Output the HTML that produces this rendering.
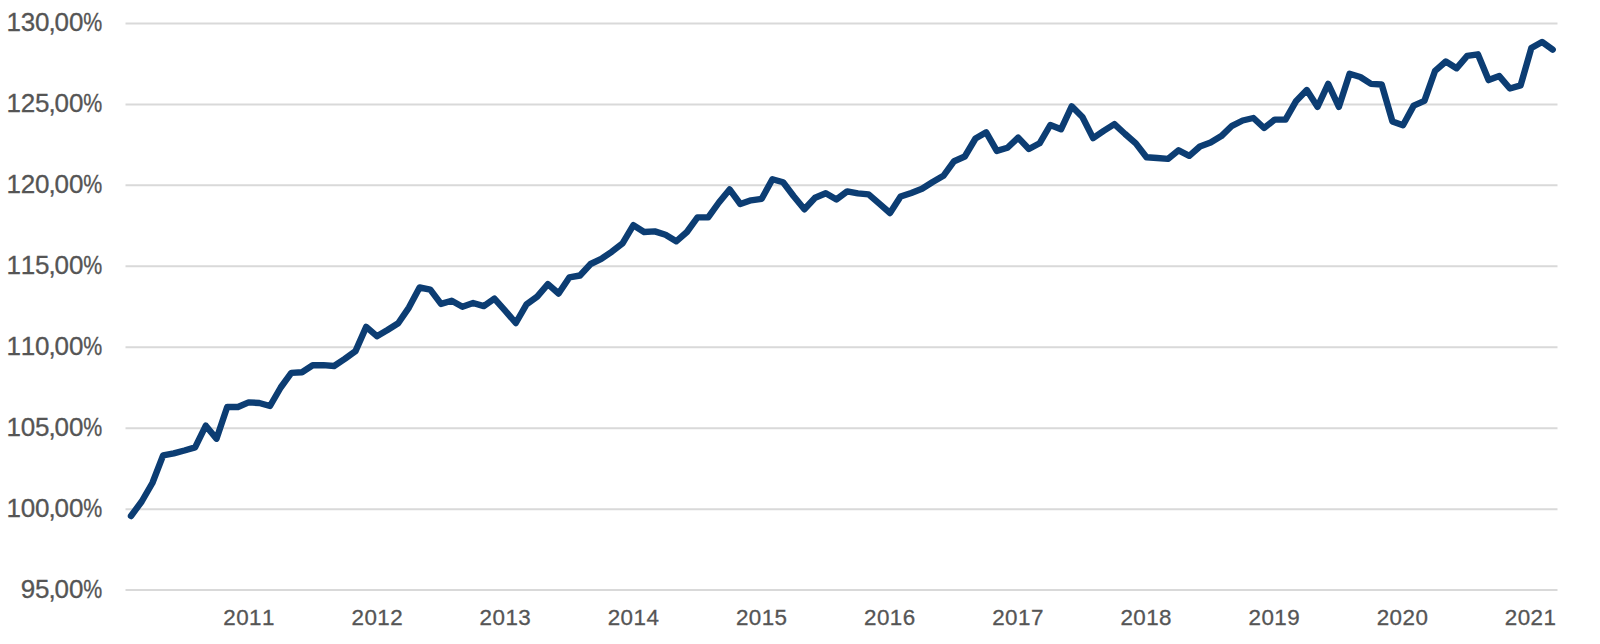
<!DOCTYPE html>
<html><head><meta charset="utf-8"><title>Chart</title>
<style>
html,body{margin:0;padding:0;background:#fff;}
body{width:1600px;height:644px;overflow:hidden;}
svg{display:block;}
text{font-family:"Liberation Sans",sans-serif;fill:#555555;}
</style></head><body>
<svg width="1600" height="644" viewBox="0 0 1600 644">
<rect width="1600" height="644" fill="#ffffff"/>
<g stroke="#d9d9d9" stroke-width="2">
<line x1="125.5" y1="23.4" x2="1557.5" y2="23.4"/>
<line x1="125.5" y1="104.4" x2="1557.5" y2="104.4"/>
<line x1="125.5" y1="185.3" x2="1557.5" y2="185.3"/>
<line x1="125.5" y1="266.3" x2="1557.5" y2="266.3"/>
<line x1="125.5" y1="347.2" x2="1557.5" y2="347.2"/>
<line x1="125.5" y1="428.2" x2="1557.5" y2="428.2"/>
<line x1="125.5" y1="509.2" x2="1557.5" y2="509.2"/>
<line x1="125.5" y1="590.1" x2="1557.5" y2="590.1"/>
</g>
<g font-size="26" text-anchor="start" stroke="#555555" stroke-width="0.3">
<text x="6.6 20.7 35.0 48.6 54.4 69.0" y="31.0">130,00<tspan x="83.3" textLength="19.0" lengthAdjust="spacingAndGlyphs">%</tspan></text>
<text x="6.6 20.7 35.0 48.6 54.4 69.0" y="112.0">125,00<tspan x="83.3" textLength="19.0" lengthAdjust="spacingAndGlyphs">%</tspan></text>
<text x="6.6 20.7 35.0 48.6 54.4 69.0" y="192.9">120,00<tspan x="83.3" textLength="19.0" lengthAdjust="spacingAndGlyphs">%</tspan></text>
<text x="6.6 20.7 35.0 48.6 54.4 69.0" y="273.9">115,00<tspan x="83.3" textLength="19.0" lengthAdjust="spacingAndGlyphs">%</tspan></text>
<text x="6.6 20.7 35.0 48.6 54.4 69.0" y="354.8">110,00<tspan x="83.3" textLength="19.0" lengthAdjust="spacingAndGlyphs">%</tspan></text>
<text x="6.6 20.7 35.0 48.6 54.4 69.0" y="435.8">105,00<tspan x="83.3" textLength="19.0" lengthAdjust="spacingAndGlyphs">%</tspan></text>
<text x="6.6 20.7 35.0 48.6 54.4 69.0" y="516.8">100,00<tspan x="83.3" textLength="19.0" lengthAdjust="spacingAndGlyphs">%</tspan></text>
<text x="20.7 35.0 48.6 54.4 69.0" y="597.7">95,00<tspan x="83.3" textLength="19.0" lengthAdjust="spacingAndGlyphs">%</tspan></text>
</g>
<g font-size="22.4" text-anchor="start" stroke="#555555" stroke-width="0.3">
<text x="223.3 236.2 249.1 262.0" y="625.4">2011</text>
<text x="351.5 364.4 377.3 390.2" y="625.4">2012</text>
<text x="479.6 492.5 505.4 518.3" y="625.4">2013</text>
<text x="607.8 620.6 633.5 646.5" y="625.4">2014</text>
<text x="735.9 748.8 761.7 774.6" y="625.4">2015</text>
<text x="864.0 876.9 889.8 902.8" y="625.4">2016</text>
<text x="992.2 1005.1 1018.0 1030.9" y="625.4">2017</text>
<text x="1120.4 1133.3 1146.2 1159.1" y="625.4">2018</text>
<text x="1248.5 1261.4 1274.3 1287.2" y="625.4">2019</text>
<text x="1376.7 1389.6 1402.5 1415.4" y="625.4">2020</text>
<text x="1504.8 1517.7 1530.6 1543.5" y="625.4">2021</text>
</g>
<polyline fill="none" stroke="#0c3d73" stroke-width="6.4" stroke-linecap="round" stroke-linejoin="round" points="131.0,516.0 141.7,501.5 152.4,483.0 163.1,455.3 173.8,453.3 184.4,450.5 195.1,447.4 205.8,425.7 216.5,438.7 227.2,407.0 237.9,407.0 248.6,402.4 259.3,403.0 270.0,406.0 280.7,387.5 291.3,372.9 302.0,372.2 312.7,365.3 323.4,365.1 334.1,366.0 344.8,358.9 355.5,351.1 366.2,326.9 376.9,336.2 387.5,330.0 398.2,323.2 408.9,307.6 419.6,287.5 430.3,289.6 441.0,303.9 451.7,300.8 462.4,306.7 473.1,303.0 483.8,306.1 494.4,298.6 505.1,310.6 515.8,323.0 526.5,304.4 537.2,296.6 547.9,284.2 558.6,293.5 569.3,277.4 580.0,275.5 590.6,264.0 601.3,258.8 612.0,251.6 622.7,243.2 633.4,225.2 644.1,232.0 654.8,231.4 665.5,234.8 676.2,241.3 686.9,232.0 697.5,217.4 708.2,217.4 718.9,202.5 729.6,189.4 740.3,204.0 751.0,200.3 761.7,198.8 772.4,179.2 783.1,182.3 793.7,196.3 804.4,209.3 815.1,197.8 825.8,193.2 836.5,199.4 847.2,191.4 857.9,193.4 868.6,194.4 879.3,203.7 890.0,213.0 900.6,196.6 911.3,192.9 922.0,188.8 932.7,182.0 943.4,175.8 954.1,161.2 964.8,156.5 975.5,138.5 986.2,132.3 996.8,150.9 1007.5,147.8 1018.2,137.6 1028.9,149.0 1039.6,143.3 1050.3,125.0 1061.0,129.3 1071.7,106.3 1082.4,117.0 1093.1,138.1 1103.7,130.9 1114.4,124.1 1125.1,134.0 1135.8,143.4 1146.5,157.3 1157.2,158.0 1167.9,158.9 1178.6,150.3 1189.3,155.8 1199.9,146.5 1210.6,142.6 1221.3,136.1 1232.0,125.8 1242.7,120.5 1253.4,118.0 1264.1,128.0 1274.8,119.6 1285.5,119.6 1296.2,100.9 1306.8,90.1 1317.5,106.8 1328.2,83.8 1338.9,106.8 1349.6,73.8 1360.3,77.0 1371.0,83.9 1381.7,84.5 1392.4,121.4 1403.0,125.3 1413.7,105.6 1424.4,100.9 1435.1,70.8 1445.8,61.5 1456.5,68.3 1467.2,55.9 1477.9,54.3 1488.6,80.1 1499.3,76.1 1509.9,88.5 1520.6,85.4 1531.3,48.1 1542.0,41.9 1552.7,49.7"/>
</svg>
</body></html>
